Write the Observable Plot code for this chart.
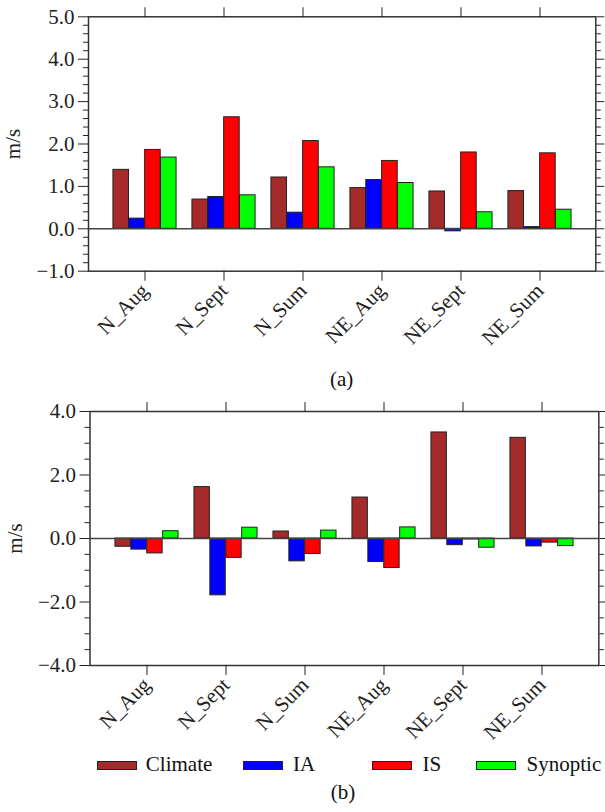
<!DOCTYPE html>
<html>
<head>
<meta charset="utf-8">
<script src="https://cdn.jsdelivr.net/npm/d3@7"></script>
<script src="https://cdn.jsdelivr.net/npm/@observablehq/plot@0.6"></script>
<style>
  html, body { margin: 0; padding: 0; background: #fff; }
  #wrap { position: relative; width: 605px; height: 812px; font-family: "Liberation Serif", "Times New Roman", Times, "DejaVu Serif", serif; color: #111; }
  #wrap > div.abs { position: absolute; }
  .cap { font-size: 21px; transform: translateX(-50%); white-space: nowrap; }
  .sw { position: absolute; width: 40px; height: 9px; border: 1px solid #222; box-sizing: border-box; }
  .lt { position: absolute; font-size: 21px; line-height: 21px; white-space: nowrap; }
  svg text { font-family: "Liberation Serif", "Times New Roman", Times, "DejaVu Serif", serif; }
</style>
</head>
<body>
<div id="wrap"></div>
<script>
const cats = ["N_Aug", "N_Sept", "N_Sum", "NE_Aug", "NE_Sept", "NE_Sum"];
const seriesNames = ["Climate", "IA", "IS", "Synoptic"];
const seriesColors = ["#A52A2A", "#0000FF", "#FF0000", "#00FF00"];

// Panel (a)
const climateA  = [1.39, 0.69, 1.21, 0.96, 0.88, 0.89];
const iaA       = [0.24, 0.75, 0.38, 1.15, -0.06, 0.04];
const isA       = [1.86, 2.63, 2.07, 1.60, 1.80, 1.78];
const synopticA = [1.68, 0.79, 1.45, 1.08, 0.39, 0.45];
const yTicksA = [-1, 0, 1, 2, 3, 4, 5];

// Panel (b)
const climateB  = [-0.26, 1.62, 0.22, 1.29, 3.34, 3.17];
const iaB       = [-0.35, -1.79, -0.72, -0.74, -0.21, -0.25];
const isB       = [-0.47, -0.61, -0.49, -0.93, -0.03, -0.13];
const synopticB = [0.23, 0.34, 0.25, 0.35, -0.29, -0.24];
const yTicksB = [-4, -2, 0, 2, 4];

const fmt = d3.format(".1f");
const wrap = document.getElementById("wrap");
const FONT = "'Liberation Serif', 'Times New Roman', Times, 'DejaVu Serif', serif";

function panel({seriesValues, domain, majors, minorStep, mLeft, mRight, mTop, frameH, mBottom}) {
  const width = 605;
  const height = mTop + frameH + mBottom;
  const step = (width - mLeft - mRight) / 6.4;
  const minors = d3.range(domain[0], domain[1] + 1e-9, minorStep)
    .map(v => Math.round(v * 100) / 100)
    .filter(v => !majors.includes(v));
  const marks = [];
  seriesValues.forEach((vals, i) => {
    const data = cats.map((c, j) => ({cat: c, value: vals[j]}));
    marks.push(Plot.barY(data, {
      x: "cat", y: "value",
      fill: seriesColors[i], stroke: "#222", strokeWidth: 1,
      insetLeft: step * (0.1 + 0.2 * i),
      insetRight: step * (0.7 - 0.2 * i)
    }));
  });
  marks.push(
    Plot.ruleY([0], {stroke: "#444", strokeWidth: 1.5}),
    Plot.frame({stroke: "#333", strokeWidth: 1.5}),
    Plot.axisY({ticks: majors, tickSize: 10, tickPadding: 4, tickFormat: fmt, fontFamily: FONT,
      label: "m/s", labelAnchor: "center", labelArrow: "none", labelOffset: 83}),
    Plot.axisY({ticks: minors, tickSize: 5, text: null, label: null}),
    Plot.axisY({anchor: "right", ticks: majors, tickSize: 8, text: null, label: null}),
    Plot.axisY({anchor: "right", ticks: minors, tickSize: 4.5, text: null, label: null}),
    Plot.axisX({anchor: "top", tickSize: 10, text: null, label: null}),
    Plot.axisX({anchor: "bottom", tickSize: 10, tickPadding: 6, tickRotate: -45, label: null, fontFamily: FONT})
  );
  return Plot.plot({
    width, height,
    marginLeft: mLeft, marginRight: mRight, marginTop: mTop, marginBottom: mBottom,
    style: {fontFamily: FONT, fontSize: "21px", color: "#222", background: "white", overflow: "visible"},
    x: {type: "band", domain: cats, paddingInner: 0, paddingOuter: 0.2},
    y: {domain, nice: false},
    marks
  });
}

const pa = panel({
  seriesValues: [climateA, iaA, isA, synopticA],
  domain: [-1, 5], majors: yTicksA, minorStep: 0.2,
  mLeft: 88, mRight: 9.7, mTop: 16.3, frameH: 254.4, mBottom: 80
});
const da = document.createElement("div");
da.className = "abs"; da.style.left = "0px"; da.style.top = "0px";
da.appendChild(pa); wrap.appendChild(da);

const pb = panel({
  seriesValues: [climateB, iaB, isB, synopticB],
  domain: [-4, 4], majors: yTicksB, minorStep: 0.5,
  mLeft: 89.5, mRight: 6.7, mTop: 16, frameH: 254, mBottom: 80
});
const db = document.createElement("div");
db.className = "abs"; db.style.left = "0px"; db.style.top = "395px";
db.appendChild(pb); wrap.appendChild(db);

function caption(text, x, y) {
  const d = document.createElement("div");
  d.className = "abs cap"; d.textContent = text;
  d.style.left = x + "px"; d.style.top = y + "px";
  wrap.appendChild(d);
}
caption("(a)", 341.7, 367);
caption("(b)", 343, 780);

// Legend
const swX = [96.5, 243.4, 371.5, 475.7];
const txX = [145.8, 293, 422.5, 526.6];
seriesNames.forEach((n, i) => {
  const s = document.createElement("div");
  s.className = "sw"; s.style.left = swX[i] + "px"; s.style.top = "760.5px";
  s.style.background = seriesColors[i];
  wrap.appendChild(s);
  const t = document.createElement("div");
  t.className = "lt"; t.textContent = n;
  t.style.left = txX[i] + "px"; t.style.top = "754px";
  wrap.appendChild(t);
});
</script>
</body>
</html>
